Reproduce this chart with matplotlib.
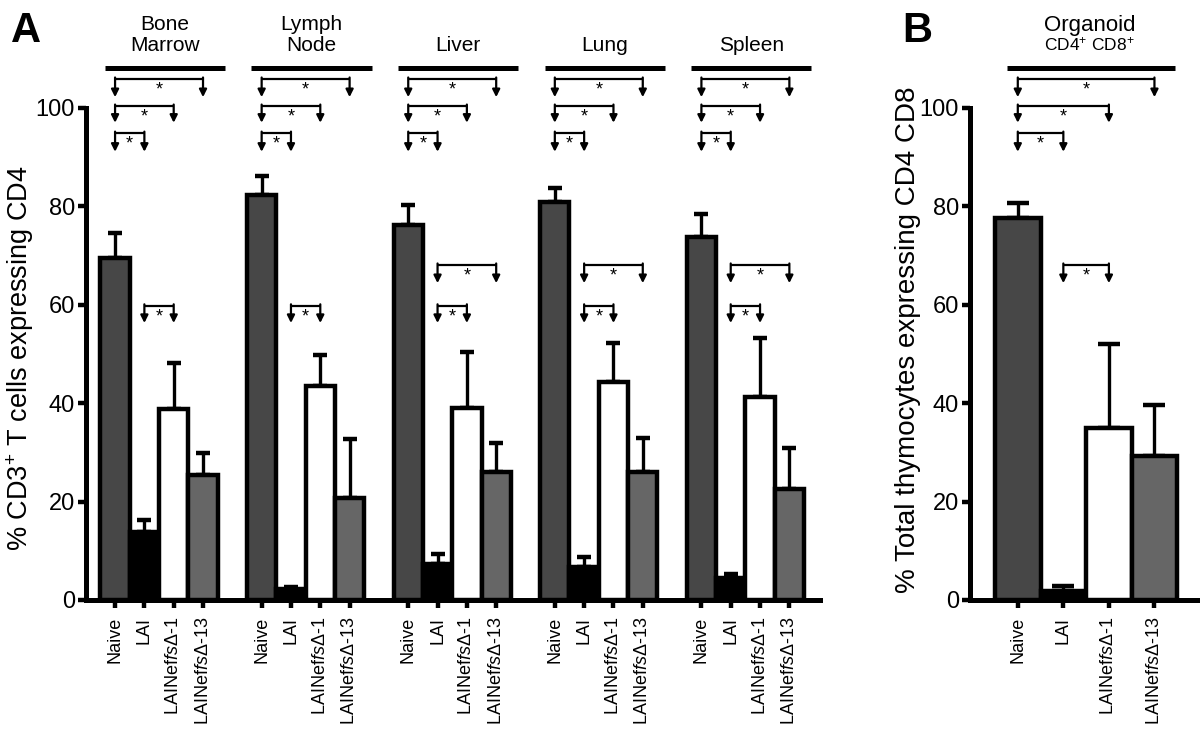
import matplotlib
matplotlib.use('Agg')
import matplotlib.pyplot as plt
import numpy as np

plt.rcParams['font.family'] = ['Liberation Sans', 'DejaVu Sans']
plt.rcParams['mathtext.fontset'] = 'custom'
plt.rcParams['mathtext.rm'] = 'Liberation Sans'
plt.rcParams['mathtext.it'] = 'Liberation Sans:italic'

# Data
groups = ['Bone\nMarrow', 'Lymph\nNode', 'Liver', 'Lung', 'Spleen']
conditions = ['Naive', 'LAI', r'LAINef$\it{fs}$Δ-1', r'LAINef$\it{fs}$Δ-13']
colors = ['#474747', '#000000', '#ffffff', '#666666']

# mean per group (rows) and condition (columns), and top of error bar
tissue_means = [
    [69.5, 13.8, 38.8, 25.4],
    [82.3, 2.2, 43.5, 20.7],
    [76.2, 7.3, 39.0, 26.0],
    [80.9, 6.8, 44.3, 26.0],
    [73.8, 4.4, 41.3, 22.6],
]
tissue_err_top = [
    [74.6, 16.2, 48.2, 29.9],
    [86.2, 2.7, 49.8, 32.7],
    [80.3, 9.4, 50.4, 31.9],
    [83.7, 8.8, 52.2, 32.9],
    [78.5, 5.2, 53.3, 30.9],
]
organoid_means = [77.6, 1.8, 35.0, 29.3]
organoid_err_top = [80.7, 2.8, 52.0, 39.6]

# significance brackets: (from bar, to bar, bracket height, arrow tip)
top_brackets = [(0, 3, 105.9, 102.2), (0, 2, 100.4, 97.0), (0, 1, 94.9, 91.1)]
low_brackets = [
    [(1, 2, 59.8, 56.3)],
    [(1, 2, 59.8, 56.3)],
    [(1, 3, 68.1, 64.4), (1, 2, 59.8, 56.3)],
    [(1, 3, 68.1, 64.4), (1, 2, 59.8, 56.3)],
    [(1, 3, 68.1, 64.4), (1, 2, 59.8, 56.3)],
]
organoid_low = [(1, 2, 68.1, 64.4)]


def bracket(ax, x1, x2, y, tip):
    ax.plot([x1, x2], [y, y], color='k', lw=1.6, clip_on=False,
            solid_capstyle='butt')
    for x in (x1, x2):
        ax.annotate('', xy=(x, tip), xytext=(x, y + 0.3),
                    arrowprops=dict(arrowstyle='-|>', lw=1.6, color='k',
                                    mutation_scale=11, shrinkA=0, shrinkB=0),
                    annotation_clip=False)
    ax.text((x1 + x2) / 2, y - 2.2, '*', ha='center', va='center',
            fontsize=13, clip_on=False)


def style_axes(ax, xlim):
    ax.set_xlim(*xlim)
    ax.set_ylim(0, 120)
    for s in ('top', 'right'):
        ax.spines[s].set_visible(False)
    ax.spines['left'].set_linewidth(3.6)
    ax.spines['bottom'].set_linewidth(3.6)
    ax.spines['left'].set_bounds(0, 100)
    ax.set_yticks(np.arange(0, 101, 20))
    ax.tick_params(axis='y', length=6, width=3.2, labelsize=17, pad=2)
    ax.tick_params(axis='x', length=6, width=3.2, labelsize=13, pad=6)


fig = plt.figure(figsize=(12, 7.38), dpi=100)

# Panel A
axA = fig.add_axes([0.0717, 0.187, 0.612, 0.800])
style_axes(axA, (-0.99, 24.06))
xpos, xlabels = [], []
for g in range(len(groups)):
    for i in range(4):
        x = g * 5 + i
        m = tissue_means[g][i]
        axA.bar(x, m, width=1.0, color=colors[i], edgecolor='k', linewidth=3.2, zorder=2)
        axA.errorbar(x, m, yerr=[[0], [tissue_err_top[g][i] - m]], fmt='none',
                     ecolor='k', elinewidth=2.4, capsize=4.8, capthick=3.2, zorder=1)
        xpos.append(x)
        xlabels.append(conditions[i])
    x0 = g * 5
    axA.plot([x0 - 0.35, x0 + 3.75], [108.1, 108.1], color='k', lw=3.6,
             clip_on=False, solid_capstyle='butt')
    axA.text(x0 + 1.7, 111.6, groups[g], ha='center', va='baseline',
             fontsize=15, linespacing=1.1)
    for a, b, y, tip in top_brackets + low_brackets[g]:
        bracket(axA, x0 + a, x0 + b, y, tip)
axA.set_xticks(xpos)
axA.set_xticklabels(xlabels, rotation=90)
axA.set_ylabel('% CD3$^{+}$ T cells expressing CD4', fontsize=19.5)
axA.yaxis.set_label_coords(-0.068, 0.41)

# Panel B
axB = fig.add_axes([0.8083, 0.187, 0.1917, 0.800])
style_axes(axB, (-1.05, 4.0))
for i in range(4):
    m = organoid_means[i]
    axB.bar(i, m, width=1.0, color=colors[i], edgecolor='k', linewidth=3.2, zorder=2)
    axB.errorbar(i, m, yerr=[[0], [organoid_err_top[i] - m]], fmt='none',
                 ecolor='k', elinewidth=2.4, capsize=8, capthick=3.2, zorder=1)
axB.plot([-0.24, 3.45], [108.1, 108.1], color='k', lw=3.6, clip_on=False,
         solid_capstyle='butt')
axB.text(1.58, 115.6, 'Organoid', ha='center', va='baseline', fontsize=16)
axB.text(1.58, 111.8, 'CD4$^{+}$ CD8$^{+}$', ha='center', va='baseline', fontsize=12.5)
for a, b, y, tip in top_brackets + organoid_low:
    bracket(axB, a, b, y, tip)
axB.set_xticks(range(4))
axB.set_xticklabels(conditions, rotation=90)
axB.set_ylabel('% Total thymocytes expressing CD4 CD8', fontsize=20)
axB.yaxis.set_label_coords(-0.215, 0.44)

fig.text(0.009, 0.943, 'A', fontsize=30, fontweight='bold')
fig.text(0.752, 0.943, 'B', fontsize=30, fontweight='bold')

fig.savefig('out.png', dpi=100)
